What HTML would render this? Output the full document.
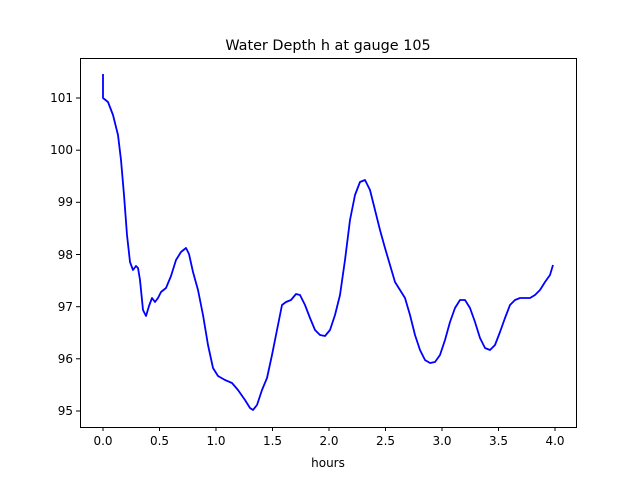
<!DOCTYPE html>
<html><head><style>body{margin:0;background:#fff}svg{display:block}text{font-family:"DejaVu Sans","Liberation Sans",sans-serif;font-size:12px;fill:#000}</style></head><body>
<svg width="640" height="480" viewBox="0 0 640 480" xmlns="http://www.w3.org/2000/svg">
<rect width="640" height="480" fill="#fff"/>
<polyline fill="none" stroke="#0000ff" stroke-width="1.8" stroke-linejoin="round" points="103,74 103,98 108,102 113,115 118,135 121,160 124,195 127,235 130,262 133,270 136,266 138,268 140,280 143,310 146,316 149,306 152,298 155,302 158,298 161,292 166,288 171,276 176,260 181,252 186,248 189,254 193,272 198,290 203,315 208,345 213,368 218,376 225,380 232,383 238,390 245,400 250,408 253,410 257,405 262,390 267,378 272,355 277,330 282,305 286,302 291,300 296,294 300,295 305,305 310,318 315,330 320,335 325,336 330,330 335,315 340,295 345,260 350,220 355,195 360,182 365,180 370,190 375,210 380,230 385,248 390,265 395,282 400,290 405,298 410,315 415,335 420,350 425,360 430,363 435,362 440,355 445,340 450,322 455,308 460,300 465,300 470,308 475,322 480,338 485,348 490,350 495,345 500,332 505,318 510,305 515,300 520,298 525,298 530,298 535,295 540,290 545,282 550,275 553,265"/>
<rect x="80.5" y="58.5" width="496" height="369" fill="none" stroke="#000" stroke-width="1"/>
<g stroke="#000" stroke-width="1">
<line x1="103" y1="427" x2="103" y2="431"/><line x1="159.5" y1="427" x2="159.5" y2="431"/><line x1="216" y1="427" x2="216" y2="431"/><line x1="272.5" y1="427" x2="272.5" y2="431"/><line x1="329" y1="427" x2="329" y2="431"/><line x1="385.5" y1="427" x2="385.5" y2="431"/><line x1="442" y1="427" x2="442" y2="431"/><line x1="498.5" y1="427" x2="498.5" y2="431"/><line x1="555" y1="427" x2="555" y2="431"/>
<line x1="76" y1="98" x2="80" y2="98"/><line x1="76" y1="150.2" x2="80" y2="150.2"/><line x1="76" y1="202.3" x2="80" y2="202.3"/><line x1="76" y1="254.5" x2="80" y2="254.5"/><line x1="76" y1="306.7" x2="80" y2="306.7"/><line x1="76" y1="358.8" x2="80" y2="358.8"/><line x1="76" y1="411" x2="80" y2="411"/>
</g>
<g text-anchor="middle">
<text x="103" y="445">0.0</text><text x="159.5" y="445">0.5</text><text x="216" y="445">1.0</text><text x="272.5" y="445">1.5</text><text x="329" y="445">2.0</text><text x="385.5" y="445">2.5</text><text x="442" y="445">3.0</text><text x="498.5" y="445">3.5</text><text x="555" y="445">4.0</text>
<text x="328" y="467">hours</text>
<text x="328" y="50" style="font-size:14.4px">Water Depth h at gauge 105</text>
</g>
<g text-anchor="end">
<text x="73" y="102">101</text><text x="73" y="154">100</text><text x="73" y="206">99</text><text x="73" y="259">98</text><text x="73" y="311">97</text><text x="73" y="363">96</text><text x="73" y="415">95</text>
</g>
</svg>
</body></html>
